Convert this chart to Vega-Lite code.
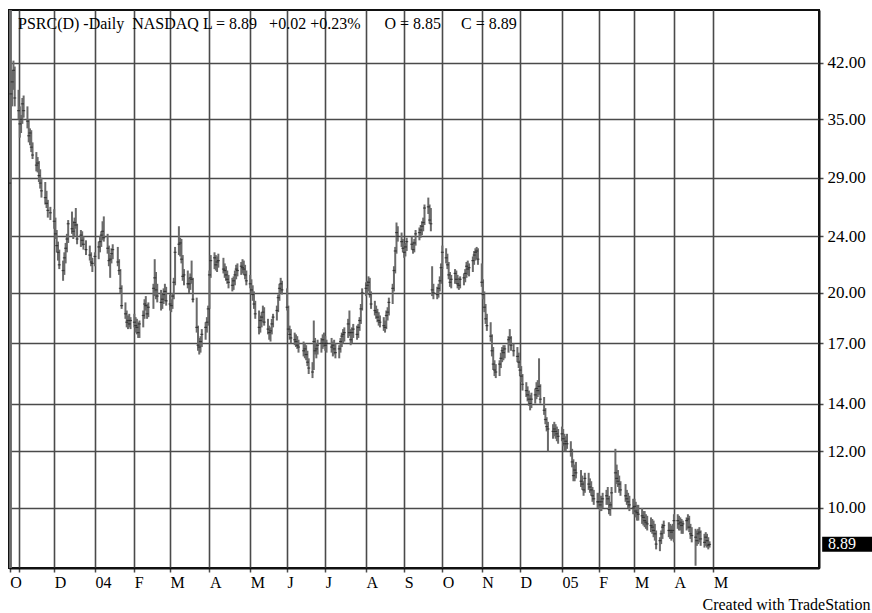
{
"$schema": "https://vega.github.io/schema/vega-lite/v6.json",
"width": 810, "height": 558,
"autosize": "none",
"padding": {"left": 9, "top": 10, "right": 53, "bottom": 45},
"background": "white",
"view": {"stroke": "#111", "strokeWidth": 2},
"title": {"text": "PSRC(D) -Daily\u00a0 NASDAQ L = 8.89\u00a0\u00a0 +0.02 +0.23%\u00a0\u00a0\u00a0\u00a0\u00a0 O = 8.85\u00a0\u00a0\u00a0\u00a0 C = 8.89", "anchor": "start", "frame": "group", "dx": 9, "offset": -16, "dy": 19, "baseline": "alphabetic", "font": "Liberation Serif", "fontSize": 16, "fontWeight": "normal", "color": "#000"},
"datasets": {"bars": [
{"d":"2003-10-27","h":60,"l":6,"c":28.5},
{"d":"2003-10-28","h":60,"l":6,"c":38},
{"d":"2003-10-29","h":41,"l":36.5,"c":39.5},
{"d":"2003-10-30","h":42.3,"l":38.5,"c":41},
{"d":"2003-10-31","h":41.5,"l":36.5,"c":37.5},
{"d":"2003-11-03","h":38.5,"l":35,"c":36},
{"d":"2003-11-04","h":36.5,"l":33,"c":34.5},
{"d":"2003-11-05","h":35.5,"l":33.5,"c":35},
{"d":"2003-11-06","h":37.5,"l":34.5,"c":36.8},
{"d":"2003-11-07","h":37.8,"l":35.2,"c":36},
{"d":"2003-11-10","h":36.5,"l":34,"c":34.8},
{"d":"2003-11-11","h":35,"l":32.5,"c":33.2},
{"d":"2003-11-12","h":34,"l":32.2,"c":33.5},
{"d":"2003-11-13","h":33.8,"l":31.5,"c":32},
{"d":"2003-11-14","h":32.5,"l":30.8,"c":31.2},
{"d":"2003-11-17","h":31.5,"l":29.6,"c":30.2},
{"d":"2003-11-18","h":31,"l":29.5,"c":30.4},
{"d":"2003-11-19","h":30.6,"l":28.6,"c":29.2},
{"d":"2003-11-20","h":29.8,"l":28,"c":28.5},
{"d":"2003-11-21","h":29,"l":27.2,"c":27.8},
{"d":"2003-11-24","h":28.6,"l":26.6,"c":27.2},
{"d":"2003-11-25","h":27.8,"l":26.3,"c":26.7},
{"d":"2003-11-26","h":27,"l":25.5,"c":26.1},
{"d":"2003-11-28","h":26.4,"l":25.3,"c":25.9},
{"d":"2003-12-01","h":26.2,"l":24.6,"c":25.2},
{"d":"2003-12-02","h":25.5,"l":23.8,"c":24.2},
{"d":"2003-12-03","h":24.5,"l":22.8,"c":23.3},
{"d":"2003-12-04","h":23.6,"l":22.2,"c":22.8},
{"d":"2003-12-05","h":23,"l":21.6,"c":21.9},
{"d":"2003-12-08","h":22.2,"l":20.8,"c":21.5},
{"d":"2003-12-09","h":22.8,"l":21.2,"c":22.4},
{"d":"2003-12-10","h":23.5,"l":22,"c":23.1},
{"d":"2003-12-11","h":24.2,"l":22.8,"c":23.8},
{"d":"2003-12-12","h":25.3,"l":23.5,"c":25},
{"d":"2003-12-15","h":26,"l":24.2,"c":24.6},
{"d":"2003-12-16","h":25.2,"l":23.8,"c":24.4},
{"d":"2003-12-17","h":25.5,"l":24,"c":25.1},
{"d":"2003-12-18","h":26.3,"l":24.6,"c":24.9},
{"d":"2003-12-19","h":25,"l":23.4,"c":23.8},
{"d":"2003-12-22","h":24.5,"l":23.2,"c":24.1},
{"d":"2003-12-23","h":24.4,"l":23.3,"c":23.7},
{"d":"2003-12-24","h":24,"l":23,"c":23.4},
{"d":"2003-12-26","h":23.7,"l":22.6,"c":23},
{"d":"2003-12-29","h":23.3,"l":22.2,"c":22.6},
{"d":"2003-12-30","h":22.8,"l":21.8,"c":22.1},
{"d":"2003-12-31","h":22.4,"l":21.4,"c":22},
{"d":"2004-01-02","h":22.8,"l":21.8,"c":22.5},
{"d":"2004-01-05","h":23.6,"l":22.3,"c":23.2},
{"d":"2004-01-06","h":24,"l":22.8,"c":23.6},
{"d":"2004-01-07","h":24.4,"l":23.2,"c":24.1},
{"d":"2004-01-08","h":25.2,"l":23.7,"c":24.4},
{"d":"2004-01-09","h":25.6,"l":23.6,"c":23.9},
{"d":"2004-01-12","h":24.2,"l":22.7,"c":23.1},
{"d":"2004-01-13","h":23.3,"l":21.8,"c":22.2},
{"d":"2004-01-14","h":22.6,"l":21,"c":22.3},
{"d":"2004-01-15","h":23.1,"l":22,"c":22.7},
{"d":"2004-01-16","h":23.4,"l":22.3,"c":23},
{"d":"2004-01-20","h":23.2,"l":21.8,"c":22.1},
{"d":"2004-01-21","h":22.3,"l":21.2,"c":21.5},
{"d":"2004-01-22","h":21.6,"l":20,"c":20.3},
{"d":"2004-01-23","h":20.5,"l":19,"c":19.2},
{"d":"2004-01-26","h":19.4,"l":18.4,"c":18.7},
{"d":"2004-01-27","h":18.9,"l":17.9,"c":18.2},
{"d":"2004-01-28","h":18.6,"l":17.8,"c":18.3},
{"d":"2004-01-29","h":18.7,"l":17.9,"c":18.1},
{"d":"2004-01-30","h":18.5,"l":17.8,"c":18.3},
{"d":"2004-02-02","h":18.7,"l":17.9,"c":18.2},
{"d":"2004-02-03","h":18.5,"l":17.6,"c":18},
{"d":"2004-02-04","h":18.4,"l":17.5,"c":17.9},
{"d":"2004-02-05","h":18.2,"l":17.3,"c":17.6},
{"d":"2004-02-06","h":18.3,"l":17.3,"c":18.1},
{"d":"2004-02-09","h":18.9,"l":17.9,"c":18.6},
{"d":"2004-02-10","h":19.6,"l":18.4,"c":19.3},
{"d":"2004-02-11","h":19.8,"l":18.9,"c":19.2},
{"d":"2004-02-12","h":19.3,"l":18.4,"c":18.7},
{"d":"2004-02-13","h":19.4,"l":18.5,"c":19.1},
{"d":"2004-02-17","h":20.6,"l":19,"c":20.3},
{"d":"2004-02-18","h":22.3,"l":19.8,"c":21},
{"d":"2004-02-19","h":21.4,"l":19.6,"c":20.2},
{"d":"2004-02-20","h":20.6,"l":19.4,"c":19.8},
{"d":"2004-02-23","h":20.2,"l":18.9,"c":19.4},
{"d":"2004-02-24","h":19.9,"l":19,"c":19.6},
{"d":"2004-02-25","h":20.3,"l":19.3,"c":19.9},
{"d":"2004-02-26","h":20.6,"l":19.5,"c":20.1},
{"d":"2004-02-27","h":20.4,"l":19.2,"c":19.5},
{"d":"2004-03-01","h":19.9,"l":18.9,"c":19.3},
{"d":"2004-03-02","h":19.6,"l":18.8,"c":19.2},
{"d":"2004-03-03","h":20,"l":19,"c":19.8},
{"d":"2004-03-04","h":21,"l":19.6,"c":20.7},
{"d":"2004-03-05","h":23.2,"l":20.5,"c":22.8},
{"d":"2004-03-08","h":24.8,"l":22.6,"c":23.4},
{"d":"2004-03-09","h":23.9,"l":22.5,"c":23.5},
{"d":"2004-03-10","h":23.8,"l":22,"c":22.3},
{"d":"2004-03-11","h":22.6,"l":20.8,"c":21.1},
{"d":"2004-03-12","h":21.6,"l":20.5,"c":21.2},
{"d":"2004-03-15","h":21.5,"l":20.3,"c":20.6},
{"d":"2004-03-16","h":21,"l":20,"c":20.6},
{"d":"2004-03-17","h":21.3,"l":20.2,"c":21},
{"d":"2004-03-18","h":22.2,"l":20.6,"c":20.9},
{"d":"2004-03-19","h":21,"l":19.4,"c":19.6},
{"d":"2004-03-22","h":19.7,"l":17.6,"c":17.9},
{"d":"2004-03-23","h":18,"l":16.6,"c":16.9},
{"d":"2004-03-24","h":17.3,"l":16.4,"c":16.8},
{"d":"2004-03-25","h":17.4,"l":16.5,"c":17.1},
{"d":"2004-03-26","h":17.8,"l":16.8,"c":17.5},
{"d":"2004-03-29","h":18.2,"l":17.2,"c":17.9},
{"d":"2004-03-30","h":18.5,"l":17.6,"c":18.2},
{"d":"2004-03-31","h":19.2,"l":18,"c":19},
{"d":"2004-04-01","h":21.5,"l":19,"c":21.2},
{"d":"2004-04-02","h":22.6,"l":21,"c":22.2},
{"d":"2004-04-05","h":22.8,"l":21.6,"c":22.4},
{"d":"2004-04-06","h":22.6,"l":21.5,"c":21.9},
{"d":"2004-04-07","h":22.5,"l":21.4,"c":22.1},
{"d":"2004-04-08","h":22.7,"l":21.7,"c":22.2},
{"d":"2004-04-12","h":22.4,"l":21.3,"c":21.6},
{"d":"2004-04-13","h":22,"l":21,"c":21.5},
{"d":"2004-04-14","h":21.8,"l":20.8,"c":21.2},
{"d":"2004-04-15","h":21.5,"l":20.6,"c":20.9},
{"d":"2004-04-16","h":21.2,"l":20.3,"c":20.7},
{"d":"2004-04-19","h":21,"l":20.1,"c":20.5},
{"d":"2004-04-20","h":21.1,"l":20.2,"c":20.8},
{"d":"2004-04-21","h":21.5,"l":20.5,"c":21.2},
{"d":"2004-04-22","h":21.9,"l":20.9,"c":21.6},
{"d":"2004-04-23","h":22,"l":21.1,"c":21.5},
{"d":"2004-04-26","h":22.1,"l":21.2,"c":21.8},
{"d":"2004-04-27","h":22.3,"l":21.3,"c":21.7},
{"d":"2004-04-28","h":22.2,"l":21.2,"c":21.6},
{"d":"2004-04-29","h":21.9,"l":20.9,"c":21.2},
{"d":"2004-04-30","h":21.5,"l":20.5,"c":20.8},
{"d":"2004-05-03","h":21.2,"l":20.3,"c":20.6},
{"d":"2004-05-04","h":20.9,"l":19.9,"c":20.2},
{"d":"2004-05-05","h":20.5,"l":19.5,"c":19.9},
{"d":"2004-05-06","h":20.1,"l":19,"c":19.3},
{"d":"2004-05-07","h":19.5,"l":18.4,"c":18.7},
{"d":"2004-05-10","h":18.9,"l":17.5,"c":17.9},
{"d":"2004-05-11","h":18.6,"l":17.6,"c":18.3},
{"d":"2004-05-12","h":18.8,"l":17.9,"c":18.5},
{"d":"2004-05-13","h":19.2,"l":18.2,"c":18.8},
{"d":"2004-05-14","h":19.1,"l":18,"c":18.2},
{"d":"2004-05-17","h":18.4,"l":17.5,"c":17.8},
{"d":"2004-05-18","h":18,"l":17.2,"c":17.6},
{"d":"2004-05-19","h":17.9,"l":17.1,"c":17.7},
{"d":"2004-05-20","h":18.4,"l":17.5,"c":18.1},
{"d":"2004-05-21","h":18.7,"l":17.9,"c":18.5},
{"d":"2004-05-24","h":19.2,"l":18.3,"c":18.9},
{"d":"2004-05-25","h":19.9,"l":18.8,"c":19.7},
{"d":"2004-05-26","h":20.6,"l":19.5,"c":20.3},
{"d":"2004-05-27","h":21,"l":20,"c":20.6},
{"d":"2004-05-28","h":20.8,"l":19.9,"c":20.2},
{"d":"2004-06-01","h":20.3,"l":18.9,"c":19.1},
{"d":"2004-06-02","h":19.2,"l":17.6,"c":17.8},
{"d":"2004-06-03","h":18,"l":17.2,"c":17.5},
{"d":"2004-06-04","h":17.8,"l":17,"c":17.3},
{"d":"2004-06-07","h":17.6,"l":16.9,"c":17.2},
{"d":"2004-06-08","h":17.5,"l":16.8,"c":17.1},
{"d":"2004-06-09","h":17.4,"l":16.7,"c":16.9},
{"d":"2004-06-10","h":17.2,"l":16.5,"c":16.8},
{"d":"2004-06-14","h":17.1,"l":16.3,"c":16.6},
{"d":"2004-06-15","h":17,"l":16.2,"c":16.7},
{"d":"2004-06-16","h":16.9,"l":16.1,"c":16.4},
{"d":"2004-06-17","h":16.6,"l":15.8,"c":16},
{"d":"2004-06-18","h":16.2,"l":15.4,"c":15.7},
{"d":"2004-06-21","h":16,"l":15.2,"c":15.5},
{"d":"2004-06-22","h":18.3,"l":15.6,"c":17.1},
{"d":"2004-06-23","h":17.3,"l":16.4,"c":16.6},
{"d":"2004-06-24","h":17,"l":16.2,"c":16.7},
{"d":"2004-06-25","h":17.2,"l":16.4,"c":16.9},
{"d":"2004-06-28","h":17.3,"l":16.5,"c":17},
{"d":"2004-06-29","h":17.5,"l":16.7,"c":17.2},
{"d":"2004-06-30","h":17.6,"l":16.8,"c":17},
{"d":"2004-07-01","h":17.4,"l":16.6,"c":16.9},
{"d":"2004-07-02","h":17.2,"l":16.5,"c":17},
{"d":"2004-07-06","h":17.3,"l":16.5,"c":16.8},
{"d":"2004-07-07","h":17.1,"l":16.3,"c":16.9},
{"d":"2004-07-08","h":17.2,"l":16.4,"c":16.7},
{"d":"2004-07-09","h":17,"l":16.2,"c":16.5},
{"d":"2004-07-12","h":16.9,"l":16.2,"c":16.7},
{"d":"2004-07-13","h":17.3,"l":16.5,"c":17.1},
{"d":"2004-07-14","h":17.6,"l":16.8,"c":17.4},
{"d":"2004-07-15","h":17.8,"l":17,"c":17.5},
{"d":"2004-07-16","h":17.9,"l":17.1,"c":17.6},
{"d":"2004-07-19","h":18.4,"l":17.3,"c":18.1},
{"d":"2004-07-20","h":18.9,"l":17.4,"c":17.6},
{"d":"2004-07-21","h":17.8,"l":16.9,"c":17.2},
{"d":"2004-07-22","h":17.9,"l":17,"c":17.6},
{"d":"2004-07-23","h":18.1,"l":17.3,"c":17.8},
{"d":"2004-07-26","h":18,"l":17.2,"c":17.5},
{"d":"2004-07-27","h":18.1,"l":17.3,"c":17.9},
{"d":"2004-07-28","h":18.5,"l":17.7,"c":18.3},
{"d":"2004-07-29","h":19.3,"l":18.1,"c":19},
{"d":"2004-07-30","h":20.3,"l":18.9,"c":20},
{"d":"2004-08-02","h":20.7,"l":19.8,"c":20.3},
{"d":"2004-08-03","h":20.8,"l":19.9,"c":20.5},
{"d":"2004-08-04","h":21.1,"l":20.1,"c":20.7},
{"d":"2004-08-05","h":21,"l":19.7,"c":19.9},
{"d":"2004-08-06","h":20.1,"l":19,"c":19.3},
{"d":"2004-08-09","h":19.5,"l":18.6,"c":18.9},
{"d":"2004-08-10","h":19.2,"l":18.4,"c":18.8},
{"d":"2004-08-11","h":19,"l":18.2,"c":18.5},
{"d":"2004-08-12","h":18.8,"l":18,"c":18.3},
{"d":"2004-08-13","h":18.6,"l":17.9,"c":18.2},
{"d":"2004-08-16","h":18.5,"l":17.7,"c":18},
{"d":"2004-08-17","h":18.3,"l":17.6,"c":17.9},
{"d":"2004-08-18","h":18.9,"l":17.8,"c":18.6},
{"d":"2004-08-19","h":19.1,"l":18.3,"c":18.8},
{"d":"2004-08-20","h":19.7,"l":18.6,"c":19.4},
{"d":"2004-08-23","h":20.6,"l":19.3,"c":20.3},
{"d":"2004-08-24","h":21.8,"l":20.1,"c":21.5},
{"d":"2004-08-25","h":23.2,"l":21.3,"c":22.9},
{"d":"2004-08-26","h":25.1,"l":22.7,"c":24.3},
{"d":"2004-08-27","h":24.8,"l":23.6,"c":24},
{"d":"2004-08-30","h":24.3,"l":23.2,"c":23.6},
{"d":"2004-08-31","h":23.8,"l":22.8,"c":23.1},
{"d":"2004-09-01","h":23.4,"l":22.4,"c":22.8},
{"d":"2004-09-02","h":23.5,"l":22.5,"c":23.2},
{"d":"2004-09-03","h":23.9,"l":22.9,"c":23.6},
{"d":"2004-09-07","h":24,"l":23,"c":23.4},
{"d":"2004-09-08","h":23.6,"l":22.7,"c":23},
{"d":"2004-09-09","h":23.8,"l":22.8,"c":23.5},
{"d":"2004-09-10","h":24.5,"l":23.3,"c":24.2},
{"d":"2004-09-13","h":24.7,"l":23.7,"c":24.3},
{"d":"2004-09-14","h":24.9,"l":23.9,"c":24.5},
{"d":"2004-09-15","h":25.2,"l":24.1,"c":24.8},
{"d":"2004-09-16","h":25.5,"l":24.4,"c":25.1},
{"d":"2004-09-17","h":26.6,"l":24.9,"c":26.3},
{"d":"2004-09-20","h":27.2,"l":25.8,"c":26.4},
{"d":"2004-09-21","h":26.6,"l":25,"c":25.3},
{"d":"2004-09-22","h":26.3,"l":24.4,"c":25},
{"d":"2004-09-23","h":21.8,"l":19.8,"c":20.2},
{"d":"2004-09-24","h":20.6,"l":19.6,"c":20},
{"d":"2004-09-27","h":20.4,"l":19.6,"c":19.9},
{"d":"2004-09-28","h":20.6,"l":19.7,"c":20.3},
{"d":"2004-09-29","h":21.1,"l":20.1,"c":20.8},
{"d":"2004-09-30","h":22,"l":20.6,"c":21.7},
{"d":"2004-10-01","h":23.3,"l":21.6,"c":22.8},
{"d":"2004-10-04","h":23.1,"l":22,"c":22.4},
{"d":"2004-10-05","h":22.7,"l":21.6,"c":21.9},
{"d":"2004-10-06","h":22.1,"l":20.9,"c":21.2},
{"d":"2004-10-07","h":21.4,"l":20.4,"c":20.7},
{"d":"2004-10-08","h":21.2,"l":20.3,"c":20.9},
{"d":"2004-10-11","h":21.6,"l":20.6,"c":21.3},
{"d":"2004-10-12","h":21.5,"l":20.6,"c":20.9},
{"d":"2004-10-13","h":21.2,"l":20.3,"c":20.6},
{"d":"2004-10-14","h":21,"l":20.2,"c":20.5},
{"d":"2004-10-15","h":21.1,"l":20.3,"c":20.9},
{"d":"2004-10-18","h":21.3,"l":20.5,"c":21},
{"d":"2004-10-19","h":21.6,"l":20.7,"c":21.3},
{"d":"2004-10-20","h":22.1,"l":21,"c":21.8},
{"d":"2004-10-21","h":22.2,"l":21.2,"c":21.6},
{"d":"2004-10-22","h":22,"l":21.1,"c":21.7},
{"d":"2004-10-25","h":22.5,"l":21.4,"c":22.2},
{"d":"2004-10-26","h":22.9,"l":21.9,"c":22.6},
{"d":"2004-10-27","h":23.1,"l":22.2,"c":22.8},
{"d":"2004-10-28","h":23.2,"l":22.3,"c":22.9},
{"d":"2004-10-29","h":23.1,"l":21.9,"c":22.3},
{"d":"2004-11-01","h":22,"l":20.4,"c":20.7},
{"d":"2004-11-02","h":20.9,"l":19.6,"c":19.9},
{"d":"2004-11-03","h":20.1,"l":18.8,"c":19.1},
{"d":"2004-11-04","h":19.3,"l":18.1,"c":18.4},
{"d":"2004-11-05","h":18.7,"l":17.7,"c":18},
{"d":"2004-11-08","h":18.2,"l":17.1,"c":17.4},
{"d":"2004-11-09","h":17.5,"l":16.3,"c":16.6},
{"d":"2004-11-10","h":16.8,"l":15.6,"c":15.9},
{"d":"2004-11-11","h":16.1,"l":15.3,"c":15.6},
{"d":"2004-11-12","h":15.9,"l":15.2,"c":15.5},
{"d":"2004-11-15","h":16.1,"l":15.3,"c":15.9},
{"d":"2004-11-16","h":16.5,"l":15.7,"c":16.2},
{"d":"2004-11-17","h":16.8,"l":16,"c":16.6},
{"d":"2004-11-18","h":16.9,"l":16.1,"c":16.5},
{"d":"2004-11-19","h":16.9,"l":16.2,"c":16.7},
{"d":"2004-11-22","h":17.4,"l":16.5,"c":17.2},
{"d":"2004-11-23","h":17.8,"l":16.9,"c":17.3},
{"d":"2004-11-24","h":17.4,"l":16.6,"c":16.9},
{"d":"2004-11-26","h":17,"l":16.3,"c":16.6},
{"d":"2004-11-29","h":16.8,"l":16,"c":16.3},
{"d":"2004-11-30","h":16.5,"l":15.7,"c":16},
{"d":"2004-12-01","h":16.1,"l":15.3,"c":15.6},
{"d":"2004-12-02","h":15.8,"l":15,"c":15.3},
{"d":"2004-12-03","h":15.4,"l":14.6,"c":14.9},
{"d":"2004-12-06","h":15,"l":14.3,"c":14.6},
{"d":"2004-12-07","h":14.8,"l":14.1,"c":14.4},
{"d":"2004-12-08","h":14.6,"l":13.9,"c":14.2},
{"d":"2004-12-09","h":14.4,"l":13.7,"c":14},
{"d":"2004-12-10","h":14.5,"l":13.8,"c":14.2},
{"d":"2004-12-13","h":14.7,"l":14,"c":14.4},
{"d":"2004-12-14","h":15,"l":14.2,"c":14.7},
{"d":"2004-12-15","h":15.1,"l":14.3,"c":14.6},
{"d":"2004-12-16","h":16.2,"l":14.4,"c":14.8},
{"d":"2004-12-17","h":14.9,"l":14,"c":14.2},
{"d":"2004-12-20","h":14.3,"l":13.5,"c":13.7},
{"d":"2004-12-21","h":13.8,"l":13.1,"c":13.3},
{"d":"2004-12-22","h":13.4,"l":12.8,"c":13},
{"d":"2004-12-23","h":13.2,"l":12,"c":12.9},
{"d":"2004-12-27","h":13.1,"l":12.5,"c":12.8},
{"d":"2004-12-28","h":13.2,"l":12.6,"c":12.9},
{"d":"2004-12-29","h":13.1,"l":12.5,"c":12.8},
{"d":"2004-12-30","h":13,"l":12.4,"c":12.7},
{"d":"2004-12-31","h":12.9,"l":12.3,"c":12.6},
{"d":"2005-01-03","h":13,"l":12.4,"c":12.7},
{"d":"2005-01-04","h":12.9,"l":12.2,"c":12.5},
{"d":"2005-01-05","h":12.7,"l":12,"c":12.3},
{"d":"2005-01-06","h":12.6,"l":12,"c":12.4},
{"d":"2005-01-07","h":12.7,"l":12.1,"c":12.3},
{"d":"2005-01-10","h":12.4,"l":11.8,"c":12},
{"d":"2005-01-11","h":12.1,"l":11.4,"c":11.6},
{"d":"2005-01-12","h":11.7,"l":10.9,"c":11.1},
{"d":"2005-01-13","h":11.5,"l":10.9,"c":11.3},
{"d":"2005-01-14","h":11.6,"l":11,"c":11.2},
{"d":"2005-01-18","h":11.3,"l":10.7,"c":10.9},
{"d":"2005-01-19","h":11.1,"l":10.6,"c":10.8},
{"d":"2005-01-20","h":10.9,"l":10.4,"c":10.6},
{"d":"2005-01-21","h":11.2,"l":10.5,"c":11},
{"d":"2005-01-24","h":11.2,"l":10.6,"c":10.8},
{"d":"2005-01-25","h":11,"l":10.5,"c":10.7},
{"d":"2005-01-26","h":10.9,"l":10.4,"c":10.6},
{"d":"2005-01-27","h":10.7,"l":10.2,"c":10.4},
{"d":"2005-01-28","h":10.6,"l":10.1,"c":10.3},
{"d":"2005-01-31","h":10.5,"l":10,"c":10.2},
{"d":"2005-02-01","h":10.5,"l":10,"c":10.2},
{"d":"2005-02-02","h":10.4,"l":9.9,"c":10.1},
{"d":"2005-02-03","h":10.4,"l":9.9,"c":10.2},
{"d":"2005-02-04","h":10.5,"l":10,"c":10.3},
{"d":"2005-02-07","h":10.6,"l":10.1,"c":10.4},
{"d":"2005-02-08","h":10.7,"l":10.1,"c":10.3},
{"d":"2005-02-09","h":10.4,"l":9.8,"c":9.95},
{"d":"2005-02-10","h":10.2,"l":9.75,"c":10.1},
{"d":"2005-02-11","h":10.7,"l":10,"c":10.5},
{"d":"2005-02-14","h":12.1,"l":10.5,"c":11.2},
{"d":"2005-02-15","h":11.5,"l":10.8,"c":11},
{"d":"2005-02-16","h":11.3,"l":10.7,"c":10.9},
{"d":"2005-02-17","h":11.1,"l":10.5,"c":10.8},
{"d":"2005-02-18","h":10.9,"l":10.4,"c":10.6},
{"d":"2005-02-22","h":10.8,"l":10.2,"c":10.4},
{"d":"2005-02-23","h":10.6,"l":10.1,"c":10.3},
{"d":"2005-02-24","h":10.5,"l":10,"c":10.2},
{"d":"2005-02-25","h":10.4,"l":9.9,"c":10.1},
{"d":"2005-02-28","h":10.3,"l":9.8,"c":10},
{"d":"2005-03-01","h":10.3,"l":9.8,"c":10.05},
{"d":"2005-03-02","h":10.2,"l":9.7,"c":9.9},
{"d":"2005-03-03","h":10.1,"l":9.6,"c":9.85},
{"d":"2005-03-04","h":10.1,"l":9.6,"c":9.8},
{"d":"2005-03-07","h":10,"l":9.5,"c":9.75},
{"d":"2005-03-08","h":9.9,"l":9.45,"c":9.7},
{"d":"2005-03-09","h":9.9,"l":9.4,"c":9.6},
{"d":"2005-03-10","h":9.8,"l":9.35,"c":9.55},
{"d":"2005-03-11","h":9.75,"l":9.3,"c":9.5},
{"d":"2005-03-14","h":9.7,"l":9.25,"c":9.45},
{"d":"2005-03-15","h":9.65,"l":9.2,"c":9.4},
{"d":"2005-03-16","h":9.6,"l":9.1,"c":9.3},
{"d":"2005-03-17","h":9.5,"l":9,"c":9.2},
{"d":"2005-03-18","h":9.3,"l":8.75,"c":8.9},
{"d":"2005-03-21","h":9.1,"l":8.7,"c":9},
{"d":"2005-03-22","h":9.3,"l":8.9,"c":9.2},
{"d":"2005-03-23","h":9.5,"l":9.05,"c":9.4},
{"d":"2005-03-24","h":9.6,"l":9.2,"c":9.45},
{"d":"2005-03-28","h":9.55,"l":9.1,"c":9.3},
{"d":"2005-03-29","h":9.5,"l":9.05,"c":9.3},
{"d":"2005-03-30","h":9.45,"l":9,"c":9.25},
{"d":"2005-03-31","h":9.5,"l":9.05,"c":9.3},
{"d":"2005-04-01","h":9.8,"l":8.95,"c":9.6},
{"d":"2005-04-04","h":9.8,"l":9.35,"c":9.6},
{"d":"2005-04-05","h":9.75,"l":9.3,"c":9.5},
{"d":"2005-04-06","h":9.7,"l":9.3,"c":9.55},
{"d":"2005-04-07","h":9.65,"l":9.2,"c":9.45},
{"d":"2005-04-08","h":9.6,"l":9.2,"c":9.5},
{"d":"2005-04-11","h":9.7,"l":9.3,"c":9.6},
{"d":"2005-04-12","h":9.8,"l":9.35,"c":9.65},
{"d":"2005-04-13","h":9.75,"l":9.25,"c":9.4},
{"d":"2005-04-14","h":9.5,"l":9.05,"c":9.2},
{"d":"2005-04-15","h":9.4,"l":8.95,"c":9.15},
{"d":"2005-04-18","h":9.35,"l":8.3,"c":9.1},
{"d":"2005-04-19","h":9.3,"l":8.85,"c":9},
{"d":"2005-04-20","h":9.35,"l":8.9,"c":9.2},
{"d":"2005-04-21","h":9.4,"l":8.95,"c":9.25},
{"d":"2005-04-22","h":9.3,"l":8.85,"c":9.05},
{"d":"2005-04-25","h":9.2,"l":8.8,"c":8.95},
{"d":"2005-04-26","h":9.25,"l":8.85,"c":9.1},
{"d":"2005-04-27","h":9.2,"l":8.8,"c":9},
{"d":"2005-04-28","h":9.1,"l":8.75,"c":8.87},
{"d":"2005-04-29","h":8.98,"l":8.8,"c":8.89}
],
"last": [{"last": 8.89}]},
"layer": [
  {"data": {"name": "bars"},
   "mark": {"type": "rule", "color": "#6a6a6a", "strokeWidth": 2, "clip": true},
   "encoding": {
    "x": {"field": "d", "type": "temporal",
      "scale": {"type": "utc", "nice": false, "domain": ["2003-10-26T12:00:00Z", "2005-07-24T00:00:00Z"]},
      "axis": {
        "values": [
          {"year": 2003, "month": 10, "date": 27, "utc": true},
          {"year": 2003, "month": 11, "date": 3, "utc": true},
          {"year": 2003, "month": 12, "date": 1, "utc": true},
          {"year": 2004, "month": 1, "date": 2, "utc": true},
          {"year": 2004, "month": 2, "date": 2, "utc": true},
          {"year": 2004, "month": 3, "date": 1, "utc": true},
          {"year": 2004, "month": 4, "date": 1, "utc": true},
          {"year": 2004, "month": 5, "date": 3, "utc": true},
          {"year": 2004, "month": 6, "date": 1, "utc": true},
          {"year": 2004, "month": 7, "date": 1, "utc": true},
          {"year": 2004, "month": 8, "date": 2, "utc": true},
          {"year": 2004, "month": 9, "date": 1, "utc": true},
          {"year": 2004, "month": 10, "date": 1, "utc": true},
          {"year": 2004, "month": 11, "date": 1, "utc": true},
          {"year": 2004, "month": 12, "date": 1, "utc": true},
          {"year": 2005, "month": 1, "date": 3, "utc": true},
          {"year": 2005, "month": 2, "date": 1, "utc": true},
          {"year": 2005, "month": 3, "date": 1, "utc": true},
          {"year": 2005, "month": 4, "date": 1, "utc": true},
          {"year": 2005, "month": 5, "date": 2, "utc": true}
        ],
        "labelExpr": "(utcyear(datum.value) == 2003 && utcmonth(datum.value) == 10) ? '' : (utcmonth(datum.value) == 0 ? utcFormat(datum.value, '%y') : ['J','F','M','A','M','J','J','A','S','O','N','D'][utcmonth(datum.value)])",
        "labelAlign": "left", "labelBaseline": "top", "labelPadding": 2, "labelOverlap": false, "labelFlush": false,
        "labelFont": "Liberation Serif", "labelFontSize": 16, "labelColor": "#000",
        "grid": true, "gridColor": "#4a4a4a", "gridWidth": 1.6,
        "domainColor": "#111", "domainWidth": 2,
        "ticks": true, "tickSize": 4, "tickColor": "#4a4a4a", "tickWidth": 1.5,
        "title": "Created with TradeStation", "titleFont": "Liberation Serif", "titleFontSize": 16, "titleFontWeight": "normal", "titleColor": "#000",
        "titleAlign": "right", "titleBaseline": "alphabetic", "titleX": 861, "titleY": 41
      }
    },
    "y": {"field": "l", "type": "quantitative",
      "scale": {"type": "log", "nice": false, "domain": [8.24, 49.8]},
      "axis": {"orient": "right", "values": [10, 12, 14, 17, 20, 24, 29, 35, 42], "format": ".2f",
        "labelFont": "Liberation Serif", "labelFontSize": 17, "labelColor": "#000", "labelPadding": 4,
        "grid": true, "gridColor": "#4a4a4a", "gridWidth": 1.6,
        "domainColor": "#111", "domainWidth": 2,
        "ticks": true, "tickSize": 4, "tickColor": "#4a4a4a", "tickWidth": 1.5,
        "title": null}
    },
    "y2": {"field": "h"}
   }},
  {"data": {"name": "bars"},
   "mark": {"type": "tick", "orient": "horizontal", "size": 3, "thickness": 1.2, "color": "#222", "clip": true},
   "encoding": {
     "x": {"field": "d", "type": "temporal"},
     "y": {"field": "c", "type": "quantitative"}
   }},
  {"data": {"name": "last"},
   "mark": {"type": "rect", "color": "#000", "clip": false},
   "encoding": {
     "x": {"datum": 1122379200000, "type": "temporal"},
     "x2": {"datum": 1125792000000},
     "y": {"datum": 9.11, "type": "quantitative"},
     "y2": {"datum": 8.68}
   }},
  {"data": {"name": "last"},
   "mark": {"type": "text", "color": "#fff", "align": "left", "baseline": "middle", "font": "Liberation Serif", "fontSize": 16, "clip": false},
   "encoding": {
     "x": {"datum": 1122768000000, "type": "temporal"},
     "y": {"field": "last", "type": "quantitative"},
     "text": {"field": "last", "type": "quantitative", "format": ".2f"}
   }}
]
}
